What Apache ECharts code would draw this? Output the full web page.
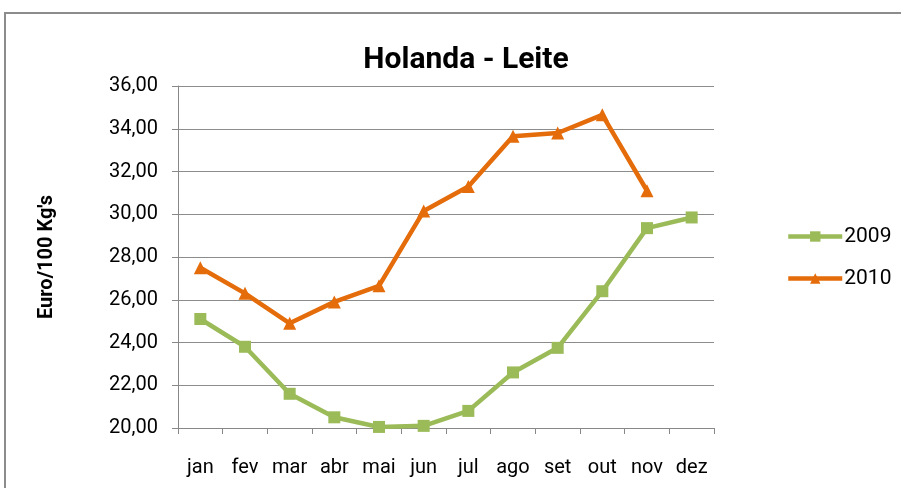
<!DOCTYPE html>
<html><head><meta charset="utf-8">
<script src="https://cdn.jsdelivr.net/npm/echarts@6/dist/echarts.min.js"></script>
<style>html,body{margin:0;padding:0;background:#fff}#c{width:901px;height:488px}</style>
</head><body><div id="c"></div>
<script>
const categories = ['jan','fev','mar','abr','mai','jun','jul','ago','set','out','nov','dez'];
const values2009 = [25.1, 23.8, 21.6, 20.5, 20.05, 20.1, 20.8, 22.6, 23.75, 26.4, 29.35, 29.85];
const values2010 = [27.5, 26.3, 24.9, 25.9, 26.65, 30.15, 31.3, 33.65, 33.8, 34.65, 31.1, null];
const yTicks = [20, 22, 24, 26, 28, 30, 32, 34, 36];
const FONT = 'Roboto, "Open Sans", sans-serif';
const chart = echarts.init(document.getElementById('c'), null, {renderer:'canvas'});
chart.setOption({
  animation:false,
  backgroundColor:'#fff',
  graphic:[{type:'rect', shape:{x:5,y:13,width:920,height:500}, style:{fill:'none', stroke:'#8c8c8c', lineWidth:2}}],
  title:{text:'Holanda - Leite', left:461, top:40, textAlign:'center',
    textStyle:{fontFamily:FONT, fontSize:30, fontWeight:'bold', color:'#000'}},
  legend:{orient:'vertical', left:781, top:221, itemWidth:54, itemHeight:13, itemGap:21,
    lineStyle:{width:4.5},
    textStyle:{fontFamily:FONT, fontSize:21, color:'#000', padding:[0,0,0,-3]},
    data:['2009','2010']},
  grid:{left:178, right:187, top:86, bottom:60, containLabel:false},
  xAxis:{type:'category', data:categories, boundaryGap:true,
    axisLine:{lineStyle:{color:'#888', width:1}},
    axisTick:{show:true, length:6, lineStyle:{color:'#888'}},
    axisLabel:{color:'#000', fontFamily:FONT, fontSize:20, margin:30, interval:0}},
  yAxis:{type:'value', min:yTicks[0], max:yTicks[yTicks.length-1], interval:2,
    name:"Euro/100 Kg's", nameLocation:'middle', nameGap:121, nameRotate:90,
    nameTextStyle:{fontFamily:FONT, fontSize:20, fontWeight:'bold', color:'#000'},
    axisLine:{show:true, lineStyle:{color:'#888'}},
    axisTick:{show:true, length:6, inside:false, lineStyle:{color:'#888'}},
    splitLine:{lineStyle:{color:'#8c8c8c', width:1}},
    axisLabel:{color:'#000', fontFamily:FONT, fontSize:20, margin:20,
      formatter:v=>v.toFixed(2).replace('.',',')}},
  series:[
    {name:'2009', type:'line', data:values2009, symbol:'rect', symbolSize:12,
      itemStyle:{color:'#9BBB59'}, lineStyle:{color:'#9BBB59', width:4.5}},
    {name:'2010', type:'line', data:values2010, symbol:'triangle', symbolSize:13,
      itemStyle:{color:'#E46C0A'}, lineStyle:{color:'#E46C0A', width:4.5}}
  ]
});
</script></body></html>
